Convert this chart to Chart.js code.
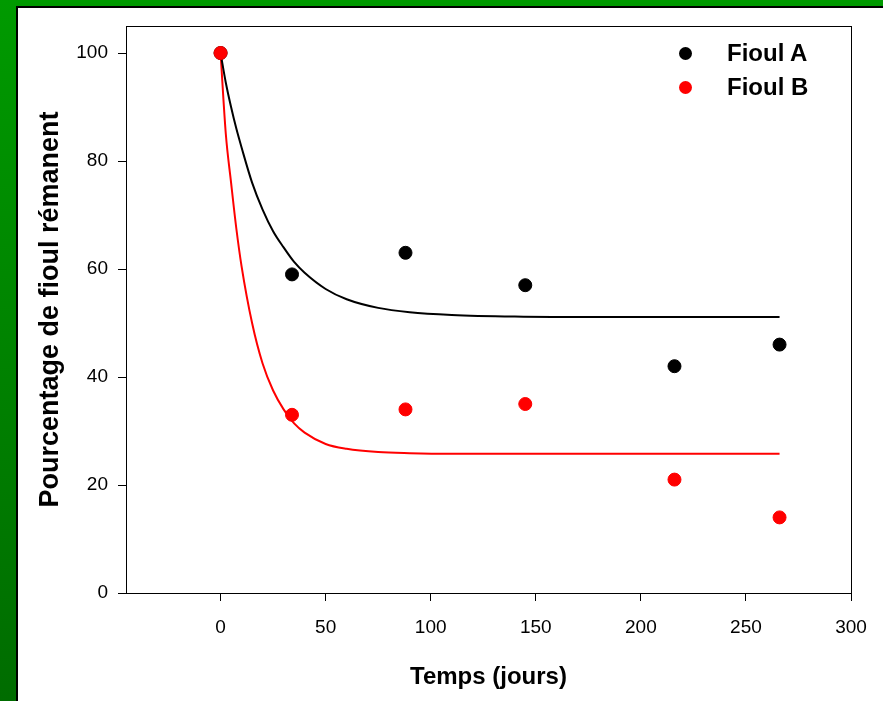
<!DOCTYPE html>
<html>
<head>
<meta charset="utf-8">
<script src="https://cdn.jsdelivr.net/npm/chart.js@4/dist/chart.umd.min.js"></script>
<style>
  body {
    margin: 0;
    width: 883px;
    height: 701px;
    overflow: hidden;
    background: linear-gradient(#009a00, #006c00);
    font-family: "Liberation Sans", Arial, sans-serif;
  }
  #panel {
    position: absolute;
    left: 16px;
    top: 6px;
    width: 865px;
    height: 693px;
    border-left: 2px solid #000;
    border-top: 2px solid #000;
    background: #fff;
  }
  #legend {
    position: absolute;
    left: 661px;
    top: 28px;
    font-weight: bold;
    font-size: 24px;
  }
  .item {
    display: flex;
    align-items: center;
    height: 34px;
  }
  .dot {
    width: 13px;
    height: 13px;
    border-radius: 50%;
    margin-right: 35px;
  }
</style>
</head>
<body>
<div id="panel">
  <canvas id="chart" width="865" height="693"></canvas>
  <div id="legend"></div>
</div>
<script>
// measured points
const days = [0, 34, 88, 145, 216, 266];
const fioulA = [100, 59, 63, 57, 42, 46];
const fioulB = [100, 33, 34, 35, 21, 14];

// fitted curves
const curveDays = [0, 2.5, 5, 7.5, 10, 15, 20, 25, 30, 35, 40, 50, 60, 75, 90, 110, 140, 180, 266];
const curveA = [100, 94.5, 90, 86, 82.5, 76, 71, 67, 64, 61.3, 59.3, 56.3, 54.4, 52.8, 52, 51.5, 51.2, 51.1, 51.1];
const curveB = [100, 85, 76, 67.5, 60.5, 50, 42.5, 37.5, 34, 31.4, 29.7, 27.6, 26.7, 26.1, 25.9, 25.8, 25.8, 25.8, 25.8];

const seriesNames = ["Fioul A", "Fioul B"];
const seriesColors = ["#000000", "#ff0000"];

const xTicks = [0, 50, 100, 150, 200, 250, 300];
const yTicks = [0, 20, 40, 60, 80, 100];

function pairs(xs, ys) {
  return xs.map((x, i) => ({ x: x, y: ys[i] }));
}

// legend inside the plot
const legend = document.getElementById("legend");
seriesNames.forEach((name, i) => {
  const row = document.createElement("div");
  row.className = "item";
  row.innerHTML = '<span class="dot" style="background:' + seriesColors[i] + '"></span>' + name;
  legend.appendChild(row);
});

const frame = {
  id: "frame",
  afterDraw(chart) {
    const { ctx, chartArea } = chart;
    ctx.save();
    ctx.strokeStyle = "#000";
    ctx.lineWidth = 1;
    ctx.strokeRect(Math.round(chartArea.left) + 0.5, Math.round(chartArea.top) + 0.5,
      Math.round(chartArea.right - chartArea.left), Math.round(chartArea.bottom - chartArea.top));
    ctx.restore();
  },
};

new Chart(document.getElementById("chart"), {
  type: "scatter",
  data: {
    datasets: [
      {
        label: seriesNames[1],
        data: pairs(days, fioulB),
        backgroundColor: seriesColors[1],
        borderColor: seriesColors[1],
        pointRadius: 6.5,
        order: 0,
      },
      {
        label: seriesNames[0],
        data: pairs(days, fioulA),
        backgroundColor: seriesColors[0],
        borderColor: seriesColors[0],
        pointRadius: 6.5,
        order: 1,
      },
      {
        label: "fit A",
        data: pairs(curveDays, curveA),
        showLine: true,
        borderColor: seriesColors[0],
        borderWidth: 2,
        pointRadius: 0,
        cubicInterpolationMode: "monotone",
        order: 2,
      },
      {
        label: "fit B",
        data: pairs(curveDays, curveB),
        showLine: true,
        borderColor: seriesColors[1],
        borderWidth: 2,
        pointRadius: 0,
        cubicInterpolationMode: "monotone",
        order: 3,
      },
    ],
  },
  options: {
    responsive: false,
    animation: false,
    devicePixelRatio: 1,
    layout: { padding: { top: 18, right: 32, left: 0, bottom: 0 } },
    plugins: {
      legend: { display: false },
      tooltip: { enabled: false },
    },
    scales: {
      x: {
        type: "linear",
        min: -45,
        max: 300,
        afterBuildTicks: (scale) => {
          scale.ticks = xTicks.map((v) => ({ value: v }));
        },
        afterFit: (scale) => {
          scale.height = 108;
          scale.paddingLeft = 0;
          scale.paddingRight = 0;
        },
        grid: { drawOnChartArea: false, color: "#000", tickLength: 8 },
        border: { color: "#000" },
        ticks: {
          color: "#000",
          padding: 15,
          maxRotation: 0,
          font: { family: "Liberation Sans", size: 19 },
        },
        title: {
          display: true,
          text: "Temps (jours)",
          color: "#000",
          padding: { top: 0, bottom: 9 },
          font: { family: "Liberation Sans", size: 24, weight: "bold" },
        },
      },
      y: {
        min: 0,
        max: 105,
        afterBuildTicks: (scale) => {
          scale.ticks = yTicks.map((v) => ({ value: v }));
        },
        afterFit: (scale) => {
          scale.width = 108;
          scale.paddingTop = 0;
          scale.paddingBottom = 0;
        },
        grid: { drawOnChartArea: false, color: "#000", tickLength: 8 },
        border: { color: "#000" },
        ticks: {
          color: "#000",
          padding: 10,
          font: { family: "Liberation Sans", size: 19 },
        },
        title: {
          display: true,
          text: "Pourcentage de fioul rémanent",
          color: "#000",
          padding: { top: 16, bottom: 0 },
          font: { family: "Liberation Sans", size: 27, weight: "bold" },
        },
      },
    },
  },
  plugins: [frame],
});
</script>
</body>
</html>
